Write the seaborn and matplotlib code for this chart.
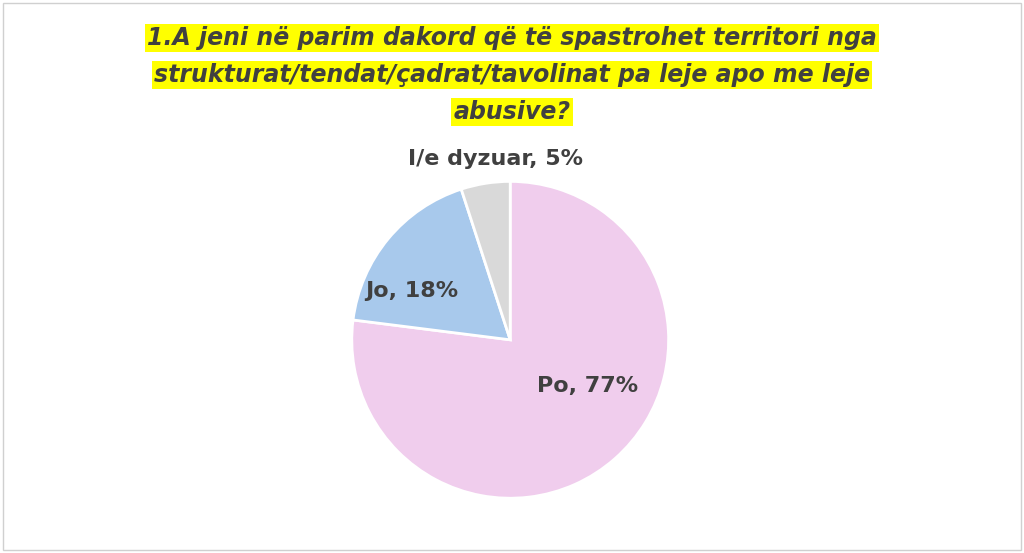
import matplotlib
matplotlib.use("Agg")
import matplotlib.pyplot as plt
import seaborn as sns

sns.set_theme(style="white")
plt.rcParams['font.family'] = ['DejaVu Sans']

labels = ["Po", "Jo", "I/e dyzuar"]
values = [77, 18, 5]
colors = ["#F0CDED", "#A8C9EC", "#D9D9D9"]
title_lines = ["1.A jeni në parim dakord që të spastrohet territori nga",
               "strukturat/tendat/çadrat/tavolinat pa leje apo me leje",
               "abusive?"]

fig = plt.figure(figsize=(10.24, 5.53), dpi=100)
fig.patch.set_facecolor("white")
fig.add_artist(plt.Rectangle((0.003, 0.005), 0.994, 0.99, transform=fig.transFigure,
                             fill=False, edgecolor="#D0D0D0", linewidth=1))

for i, line in enumerate(title_lines):
    fig.text(0.5, 0.931 - i * 0.067, line, ha="center", va="center",
             fontsize=17, fontweight="bold", fontstyle="italic", color="#404040",
             bbox=dict(facecolor="#FFFF00", edgecolor="none", pad=1.5))

ax = fig.add_axes([0.342, 0.096, 0.3125, 0.579])
wedges, _ = ax.pie(values, colors=colors, startangle=90, counterclock=False,
                   wedgeprops=dict(edgecolor="white", linewidth=2))
ax.set_xlim(-1.01, 1.01)
ax.set_ylim(-1.01, 1.01)
ax.set_aspect("equal")

label_pos = [(0.49, -0.29), (-0.62, 0.31), (-0.09, 1.14)]
for lab, v, (x, y) in zip(labels, values, label_pos):
    ax.text(x, y, f"{lab}, {v}%", ha="center", va="center", fontsize=16,
            fontweight="bold", color="#404040")

fig.savefig("out.png", dpi=100)
